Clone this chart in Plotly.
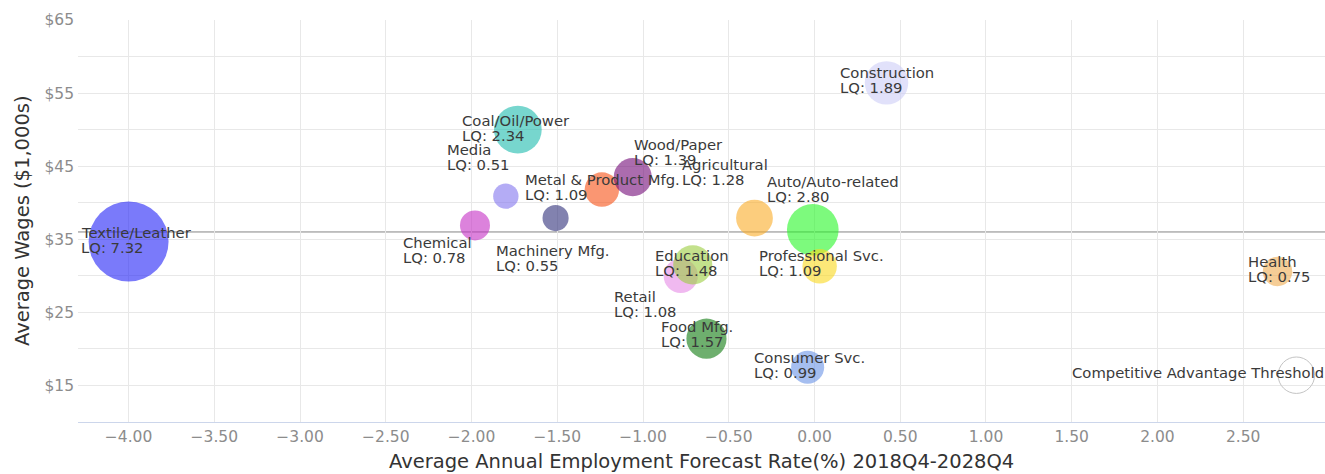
import plotly.graph_objects as go
import math

# ---- data ----
industries = ["Textile/Leather", "Coal/Oil/Power", "Media", "Chemical", "Machinery Mfg.",
              "Metal & Product Mfg.", "Wood/Paper", "Agricultural", "Auto/Auto-related",
              "Professional Svc.", "Construction", "Health", "Consumer Svc.", "Retail",
              "Education", "Food Mfg."]
growth = [-4.00, -1.73, -1.80, -1.98, -1.51, -1.24, -1.06, -0.35, -0.01, 0.03, 0.42, 2.70,
          -0.04, -0.78, -0.71, -0.63]
wages = [34.7, 50.0, 40.9, 36.9, 37.9, 41.8, 43.5, 37.9, 36.3, 31.3, 56.4, 30.6, 17.5,
         30.0, 31.5, 21.4]
lq = [7.32, 2.34, 0.51, 0.78, 0.55, 1.09, 1.39, 1.28, 2.80, 1.09, 1.89, 0.75, 0.99, 1.08,
      1.48, 1.57]

threshold_name = "Competitive Advantage Threshold"
threshold_x = 2.81
threshold_y = 16.4
threshold_lq = 1.25

avg_growth_line = 0.0
avg_wage_line = 36.0

x_ticks = [-4.0, -3.5, -3.0, -2.5, -2.0, -1.5, -1.0, -0.5, 0.0, 0.5, 1.0, 1.5, 2.0, 2.5]
y_ticks = [15, 25, 35, 45, 55, 65]
y_ticktext = ["$15", "$25", "$35", "$45", "$55", "$65"]
x_title = "Average Annual Employment Forecast Rate(%) 2018Q4-2028Q4"
y_title = "Average Wages ($1,000s)"

# ---- styles ----
colors = ["rgba(33,33,247,0.6)", "rgba(28,187,173,0.6)", "rgba(130,117,238,0.6)",
          "rgba(197,47,197,0.6)", "rgba(47,47,122,0.6)", "rgba(247,80,20,0.6)",
          "rgba(115,10,120,0.6)", "rgba(250,172,38,0.6)", "rgba(38,247,38,0.6)",
          "rgba(250,217,30,0.6)", "rgba(205,205,247,0.6)", "rgba(238,172,80,0.6)",
          "rgba(105,147,230,0.6)", "rgba(230,138,230,0.6)", "rgba(155,205,63,0.6)",
          "rgba(13,122,13,0.6)"]
# label offsets (px) of first line relative to bubble centre: (dx to left edge, dy down)
label_offsets = [(-49, -9), (-57, -9.5), (-60, -47), (-73, 17), (-61, 32), (-78, -10),
                 (0, -33), (-73, -54), (-47, -48), (-62, -10.5), (-48, -10), (-31, -10),
                 (-55, -10), (-68, 21), (-39, -9), (-46, -12)]
thr_offset = (-225, -2.5)


def bubble_diam(z):
    return 2 * (2.9 + 13.7 * math.sqrt(z))


fig = go.Figure()
for i, name in enumerate(industries):
    fig.add_trace(go.Scatter(
        x=[growth[i]], y=[wages[i]], mode="markers", name=name,
        marker=dict(size=bubble_diam(lq[i]), sizemode="diameter", color=colors[i],
                    line=dict(width=0)),
        hovertemplate=f"{name}<br>LQ: {lq[i]:.2f}<extra></extra>"))

fig.add_trace(go.Scatter(
    x=[threshold_x], y=[threshold_y], mode="markers", name=threshold_name,
    marker=dict(size=bubble_diam(threshold_lq), sizemode="diameter",
                color="rgba(255,255,255,0)", line=dict(width=1, color="#c4c4c4"))))

lab_font = dict(family="DejaVu Sans", size=14.8, color="#3a3a3a")
annotations = []
for i, name in enumerate(industries):
    dx, dy = label_offsets[i]
    for k, txt in enumerate([name, f"LQ: {lq[i]:.2f}"]):
        annotations.append(dict(x=growth[i], y=wages[i], xref="x", yref="y",
                                text=txt, showarrow=False, xanchor="left",
                                yanchor="middle", xshift=dx - 1, yshift=-(dy + 15 * k),
                                font=lab_font))
annotations.append(dict(x=threshold_x, y=threshold_y, xref="x", yref="y",
                        text=threshold_name, showarrow=False, xanchor="left",
                        yanchor="middle", xshift=thr_offset[0] - 1, yshift=-thr_offset[1],
                        font=lab_font))
# axis titles
annotations.append(dict(x=0.5, y=0, xref="paper", yref="paper", text=x_title,
                        showarrow=False, xanchor="center", yanchor="middle", yshift=-39,
                        font=dict(family="DejaVu Sans", size=19.5, color="#333333")))
annotations.append(dict(x=0, y=0.5, xref="paper", yref="paper", text=y_title,
                        showarrow=False, xanchor="center", yanchor="middle", xshift=-56,
                        textangle=-90,
                        font=dict(family="DejaVu Sans", size=19.5, color="#333333")))

shapes = [
    dict(type="line", xref="paper", x0=0, x1=1, yref="y", y0=avg_wage_line, y1=avg_wage_line,
         line=dict(color="#858585", width=1), layer="below"),
    dict(type="line", xref="x", x0=avg_growth_line, x1=avg_growth_line, yref="paper",
         y0=0, y1=1, line=dict(color="#858585", width=1), layer="below"),
]

fig.update_layout(
    width=1325, height=474,
    margin=dict(l=78, r=0, t=20, b=52),
    paper_bgcolor="white", plot_bgcolor="white",
    showlegend=False,
    font=dict(family="DejaVu Sans"),
    annotations=annotations,
    shapes=shapes,
    xaxis=dict(range=[-4.295, 2.977], tickvals=x_ticks, tickformat=".2f",
               showgrid=True, gridcolor="#e8e8e8", gridwidth=1, zeroline=False,
               showline=True, linecolor="#ccd6eb", linewidth=1, ticks="",
               automargin=False,
               tickfont=dict(size=15.5, color="#8c8c8c")),
    yaxis=dict(range=[10, 65], tickvals=y_ticks, ticktext=y_ticktext,
               showgrid=True, gridcolor="#e8e8e8", gridwidth=1, zeroline=False,
               showline=False, ticks="", automargin=False, ticklabelstandoff=3,
               minor=dict(tickvals=[20, 30, 40, 50, 60], showgrid=True,
                          gridcolor="#e8e8e8", gridwidth=1),
               tickfont=dict(size=15.5, color="#8c8c8c")),
)

fig.write_html("out.html", config={"displayModeBar": False},
               post_script="document.body.style.margin='0';document.body.style.overflow='hidden';")
